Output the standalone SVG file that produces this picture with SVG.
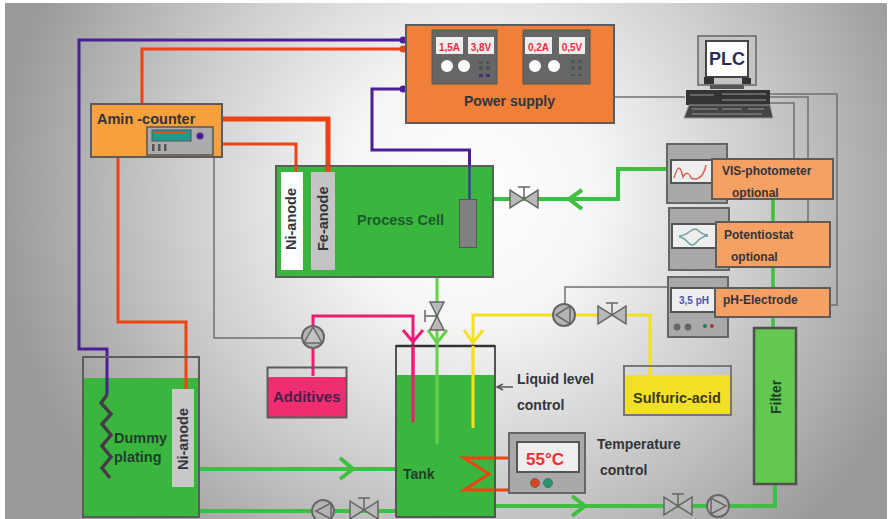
<svg xmlns="http://www.w3.org/2000/svg" width="889" height="519" viewBox="0 0 889 519">
<style>
text{font-family:"Liberation Sans",Arial,sans-serif;font-weight:bold;fill:#33343a}
.box{stroke:#5c5c5c;stroke-width:2}
.panel{fill:#a9a9a9;stroke:#666;stroke-width:2}
.scr{fill:#eee;stroke:#555;stroke-width:2}
.w{fill:none;stroke-linejoin:miter}
.pu{stroke:#4b1f95;stroke-width:3}
.rd{stroke:#ee4312;stroke-width:3}
.rd5{stroke:#ee4312;stroke-width:5}
.gn{stroke:#3fbf3f;stroke-width:4}
.gy{stroke:#6f6f6f;stroke-width:1.5}
.pk{stroke:#ee1c74;stroke-width:3}
.ye{stroke:#f4e01e;stroke-width:3}
.pump{fill:#b4b4b4;stroke:#666;stroke-width:2}
.tri{fill:#b8b8b8;stroke:#666;stroke-width:1.5}
</style>
<defs>
<radialGradient id="bg" gradientUnits="userSpaceOnUse" cx="470" cy="195" r="470">
<stop offset="0" stop-color="#fff"/><stop offset=".27" stop-color="#f6f6f6"/><stop offset=".6" stop-color="#cfcfcf"/><stop offset="1" stop-color="#9a9a9a"/>
</radialGradient>
<g id="valveH"><path class="tri" d="M-14-9V9L14-9V9Z"/><path d="M0 0V-12M-6-12H6" fill="none" stroke="#666" stroke-width="1.500"/></g>
<g id="valveV"><path class="tri" d="M-7-14H7L-7 14H7Z"/><path d="M0 0H-12M-12-6V6" fill="none" stroke="#666" stroke-width="1.500"/></g>
</defs>
<rect width="889" height="519" fill="#fff"/>
<rect x="5" y="3" width="882" height="516" fill="url(#bg)"/>

<g id="connectors">
<path class="w gy" d="M214 157V338H302"/>
<path class="w gy" d="M614 97H685"/>
<path class="w gy" d="M770 94H837V305H830M770 97H808V222M770 103H794V159"/>
<path class="w gy" d="M668 287H565V304"/>
<path class="w pu" d="M403 40H79V349H107V395"/>
<path class="w rd" d="M403 49H142V103"/>
<path class="w rd" d="M118 158V322H186V389"/>
<path class="w rd5" d="M222 119H328V172"/>
<path class="w rd" d="M222 144H296V172"/>
<path class="w pu" d="M403 89H372V150H469.500V199"/>
<circle cx="403" cy="40" r="3.500" fill="#4b1f95"/><circle cx="403" cy="49" r="3.500" fill="#ee4312"/><circle cx="403" cy="89" r="3.500" fill="#4b1f95"/>
<path class="w gn" d="M493 199H618V169H667"/>
<path class="w gn" d="M582 190L569 199L582 209"/>
<path class="w" stroke="#3fbf3f" stroke-width="3.500" d="M773 199V222M773 267V288M773 317V328"/>
<path class="w gn" d="M775 484V506H495"/>
<path class="w gn" d="M572 496L585 506L572 516"/>
<path class="w gn" d="M199 469H396M340 458L353 469L340 479"/>
<path class="w gn" d="M199 511H396"/>
<path class="w" stroke="#66d048" stroke-width="3" d="M437 277V344"/>
<path class="w" stroke="#66d048" stroke-width="3" d="M428 330L437 343L447 330"/>
<path class="w pk" d="M313 376V316H413V422M403 330L413 342L423 330"/>
<path class="w ye" d="M473 428V315H650V375M464 330L473 343L483 330"/>
<path class="w rd" d="M509 458H464L489 474L464 490H509"/>
<path fill="none" stroke="#555" stroke-width="1.500" d="M513 387H498M503 384L497 387L503 390"/>
</g>

<g id="power-supply">
<rect class="box" x="406" y="25" width="208" height="98" fill="#f08038"/>
<rect x="432" y="30" width="65" height="54" fill="#666" stroke="#555"/>
<rect x="436" y="37" width="27" height="17" fill="#eee"/><rect x="468" y="37" width="26" height="17" fill="#eee"/>
<text x="449.500" y="51" font-size="10" text-anchor="middle" style="fill:#ee2c3c">1,5A</text>
<text x="481" y="51" font-size="10" text-anchor="middle" style="fill:#ee2c3c">3,8V</text>
<circle cx="447" cy="66" r="6" fill="#fff"/><circle cx="464" cy="66" r="6" fill="#fff"/>
<path d="M479 61h4v3h-4zM486 61h4v3h-4zM479 66h4v4h-4zM486 66h4v4h-4z" fill="#4a5a4f"/><path d="M479 74h4v3h-4zM486 74h4v3h-4z" fill="#443070"/>
<rect x="523" y="30" width="67" height="54" fill="#666" stroke="#555"/>
<rect x="525" y="37" width="27" height="17" fill="#eee"/><rect x="559" y="37" width="26" height="17" fill="#eee"/>
<text x="538.500" y="51" font-size="10" text-anchor="middle" style="fill:#ee2c3c">0,2A</text>
<text x="572" y="51" font-size="10" text-anchor="middle" style="fill:#ee2c3c">0,5V</text>
<circle cx="535" cy="66" r="6" fill="#fff"/><circle cx="554" cy="66" r="6" fill="#fff"/>
<path d="M571 60h4v3h-4zM578 60h4v3h-4zM571 66h4v4h-4zM578 66h4v4h-4zM571 74h4v2h-4zM578 74h4v2h-4z" fill="#4a5a4f"/>
<text x="464" y="106" font-size="14">Power supply</text>
</g>

<g id="amin-counter">
<rect class="box" x="91" y="104" width="131" height="53" fill="#f6a13e"/>
<text x="97" y="124" font-size="14.500">Amin -counter</text>
<rect x="147" y="127" width="66" height="28" fill="#ababab" stroke="#555" stroke-width="1.500"/>
<rect x="152" y="130" width="39" height="11" fill="#1f9a8c" stroke="#555"/>
<rect x="154" y="132" width="32" height="2" fill="#e44c20"/>
<circle cx="200" cy="136" r="3.500" fill="#4b1f95"/>
<path d="M152 144h2.500v7h-2.500zM158 144h2.500v7h-2.500zM164 144h2.500v7h-2.500z" fill="#555"/>
</g>

<g id="process-cell">
<rect class="box" x="276" y="166" width="217" height="111" fill="#3ab63e"/>
<rect x="281" y="172" width="22" height="98" fill="#fff"/>
<rect x="311" y="172" width="24" height="98" fill="#c4c4c4"/>
<path class="w rd" d="M296 166V172"/><path class="w rd5" d="M328 166V172"/>
<text transform="translate(296 250) rotate(-90)" font-size="14.500">Ni-anode</text>
<text transform="translate(328 251) rotate(-90)" font-size="14.500">Fe-anode</text>
<text x="357" y="225" font-size="14.500" style="fill:#1c5a2c">Process Cell</text>
<path class="w" stroke="#3c3c9a" stroke-width="2.500" d="M469.500 165V199"/>
<rect x="459.500" y="199.500" width="17" height="48" fill="#808080" stroke="#555"/>
</g>

<g id="valve-cell"><use href="#valveH" x="524" y="199"/></g>
<g id="valve-tank"><use href="#valveV" x="437" y="316"/></g>

<g id="vis-photometer">
<rect class="panel" x="667" y="144" width="60" height="59"/>
<rect class="scr" x="671" y="160" width="42" height="23"/>
<path fill="none" stroke="#e0604c" stroke-width="1.500" d="M674 178C678 165 680 165 683 177C686 172 689 172 691 178C695 180 703 180 706 165"/>
<rect class="box" x="712" y="159" width="121" height="40" fill="#f6a064"/>
<text x="722" y="175" font-size="12">VIS-photometer</text>
<text x="732" y="197" font-size="12">optional</text>
</g>

<g id="potentiostat">
<rect class="panel" x="669" y="208" width="60" height="62"/>
<rect class="scr" x="672" y="224" width="44" height="24"/>
<path fill="none" stroke="#70a0a0" stroke-width="1.500" d="M679 236C688 236 690 229 695 229C699 229 700 235 708 235M679 237C686 237 688 245 692 245C697 245 698 236 708 236"/>
<rect class="box" x="716" y="222" width="114" height="45" fill="#f6a064"/>
<text x="724" y="239" font-size="12">Potentiostat</text>
<text x="731" y="261" font-size="12">optional</text>
</g>

<g id="ph-electrode">
<rect class="panel" x="668" y="277" width="60" height="60"/>
<rect class="scr" x="671" y="288" width="48" height="24"/>
<text x="679" y="304" font-size="10" style="fill:#4a50b8">3,5 pH</text>
<circle cx="677" cy="327" r="3.500" fill="#666"/><circle cx="688" cy="327" r="3.500" fill="#666"/>
<circle cx="705" cy="326" r="2" fill="#2e7a55"/><circle cx="712" cy="326" r="2" fill="#a04030"/>
<rect class="box" x="715" y="288" width="115" height="29" fill="#f6a064"/>
<text x="723" y="304" font-size="12">pH-Electrode</text>
</g>

<g id="plc">
<rect x="698" y="36" width="58" height="49" fill="#c4c4c4" stroke="#666" stroke-width="1.500"/>
<rect x="706" y="41" width="42" height="36" fill="#fff" stroke="#444" stroke-width="2"/>
<text x="727" y="65" font-size="18" text-anchor="middle" style="fill:#2c2c50">PLC</text>
<rect x="704" y="77" width="10" height="7" fill="#333"/><rect x="742" y="78" width="9" height="6" fill="#333"/>
<rect x="710" y="85" width="34" height="4" fill="#555"/>
<rect x="686" y="90" width="84" height="15" fill="#333"/>
<path d="M690 95h24M722 94h44M722 100h44" stroke="#999" fill="none"/>
<path d="M689 105L684 118H773L770 105Z" fill="#444" stroke="#999"/>
<path d="M692 109h26M722 109h20M748 109h16M692 114h70" stroke="#999" fill="none"/>
</g>

<g id="dummy-plating">
<rect x="83" y="357" width="116" height="160" fill="none" stroke="#5c5c5c" stroke-width="2"/>
<rect x="84" y="378" width="114" height="138" fill="#3ab63e"/>
<rect x="172" y="389" width="22" height="98" fill="#c8c8c8"/>
<text transform="translate(188 470) rotate(-90)" font-size="14.500">Ni-anode</text>
<text x="114" y="443" font-size="14.500" style="fill:#1f3f2c">Dummy</text>
<text x="114" y="462" font-size="14.500" style="fill:#1f3f2c">plating</text>
<path class="w" stroke="#453a46" stroke-width="3.500" d="M107 395L101 403L111 414L102 424L111 435L102 446L111 457L102 468L110 478"/>
<path class="w pu" d="M107 378V395"/>
<path class="w rd" d="M186 378V389"/>
</g>

<g id="additives">
<rect x="268" y="377" width="79" height="40" fill="#ee2e70"/>
<rect x="267.500" y="367.500" width="79" height="50" fill="none" stroke="#5c5c5c" stroke-width="2"/>
<text x="273" y="402" font-size="15" style="fill:#4a1f4a">Additives</text>
</g>

<g id="pump-additives">
<circle class="pump" cx="313" cy="337" r="11"/><path d="M313 327L304 343H322Z" fill="#c4c4c4" stroke="#666" stroke-width="1.500"/>
</g>

<g id="sulfuric-acid">
<rect x="624" y="375" width="107" height="40" fill="#f2e026"/>
<rect x="624" y="366" width="107" height="49" fill="none" stroke="#777" stroke-width="2"/>
<text x="633" y="403" font-size="14.500" style="fill:#3a3a1c">Sulfuric-acid</text>
</g>

<g id="pump-acid"><circle class="pump" cx="564" cy="315" r="11"/><path d="M556 315L570 306V324Z" fill="#b4b4b4" stroke="#666" stroke-width="1.500"/></g>
<g id="valve-acid"><use href="#valveH" x="612" y="315"/></g>

<g id="tank">
<rect x="396" y="375" width="99" height="142" fill="#3ab63e"/>
<path d="M396 517V346H495V517H396" fill="none" stroke="#555" stroke-width="2"/>
<path d="M396 346H495" stroke="#333" stroke-width="2.500"/>
<path class="w" stroke="#66d048" stroke-width="3" d="M437 344V444"/>
<path class="w pk" d="M413 346V422"/>
<path class="w ye" d="M473 346V428"/>
<path class="w rd" d="M495 458H464L489 474L464 490H495"/>
<text x="403" y="479" font-size="14" style="fill:#1f3f2c">Tank</text>
</g>

<g id="liquid-level"><text x="517" y="384" font-size="14">Liquid level</text><text x="517" y="410" font-size="14">control</text></g>

<g id="temperature-control">
<rect class="panel" x="509" y="433" width="76" height="60"/>
<rect class="scr" x="517" y="442" width="62" height="30"/>
<text x="526" y="465" font-size="17" style="fill:#ee3030">55°C</text>
<circle cx="535" cy="483" r="4.500" fill="#d8461e" stroke="#666"/><circle cx="548" cy="483" r="4.500" fill="#1f9a78" stroke="#666"/>
<text x="597" y="449" font-size="14">Temperature</text><text x="600" y="475" font-size="14">control</text>
</g>

<g id="filter">
<rect x="754" y="328" width="42" height="156" fill="#62c850" stroke="#505050" stroke-width="2.500"/>
<text transform="translate(781 414) rotate(-90)" font-size="14" style="fill:#1f3f2c">Filter</text>
</g>

<g id="pump-return"><circle class="pump" cx="323" cy="511" r="11"/><path d="M316 511L331 503V519Z" fill="#b4b4b4" stroke="#666" stroke-width="1.500"/></g>
<g id="valve-return"><use href="#valveH" x="364" y="510"/></g>
<g id="valve-filter"><use href="#valveH" x="678" y="506"/></g>
<g id="pump-filter"><circle class="pump" cx="718" cy="506" r="11"/><path d="M726 506L711 498V514Z" fill="#b4b4b4" stroke="#666" stroke-width="1.500"/></g>
</svg>
